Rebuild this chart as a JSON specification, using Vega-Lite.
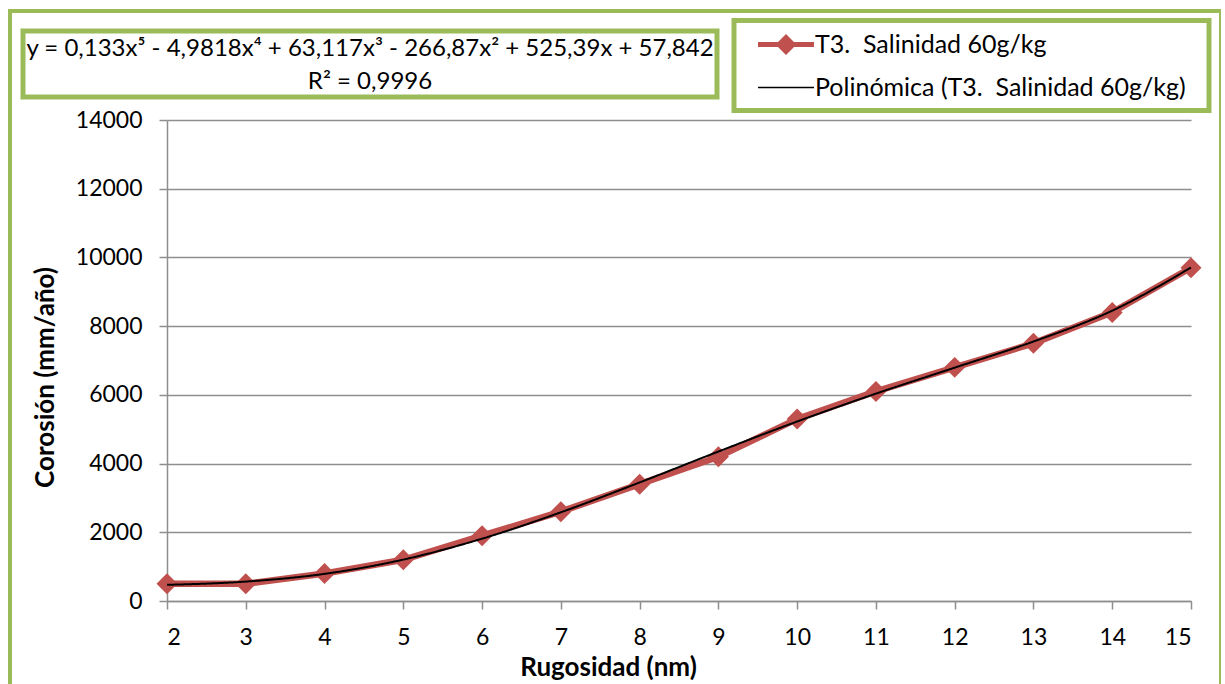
{
  "$schema": "https://vega.github.io/schema/vega-lite/v6.json",
  "autosize": {"type": "none"},
  "padding": {"left": 10, "top": 11, "right": 0, "bottom": 0},
  "width": 1211,
  "height": 700,
  "background": "white",
  "datasets": {
    "medidas": [
      {"x": 2, "y": 500, "serie": "T3. \u00a0Salinidad 60g/kg"},
      {"x": 3, "y": 500, "serie": "T3. \u00a0Salinidad 60g/kg"},
      {"x": 4, "y": 800, "serie": "T3. \u00a0Salinidad 60g/kg"},
      {"x": 5, "y": 1200, "serie": "T3. \u00a0Salinidad 60g/kg"},
      {"x": 6, "y": 1900, "serie": "T3. \u00a0Salinidad 60g/kg"},
      {"x": 7, "y": 2600, "serie": "T3. \u00a0Salinidad 60g/kg"},
      {"x": 8, "y": 3400, "serie": "T3. \u00a0Salinidad 60g/kg"},
      {"x": 9, "y": 4200, "serie": "T3. \u00a0Salinidad 60g/kg"},
      {"x": 10, "y": 5300, "serie": "T3. \u00a0Salinidad 60g/kg"},
      {"x": 11, "y": 6100, "serie": "T3. \u00a0Salinidad 60g/kg"},
      {"x": 12, "y": 6800, "serie": "T3. \u00a0Salinidad 60g/kg"},
      {"x": 13, "y": 7500, "serie": "T3. \u00a0Salinidad 60g/kg"},
      {"x": 14, "y": 8400, "serie": "T3. \u00a0Salinidad 60g/kg"},
      {"x": 15, "y": 9700, "serie": "T3. \u00a0Salinidad 60g/kg"}
    ],
    "tendencia": [
      {"x": 2, "y": 471, "serie": "Polinómica (T3. \u00a0Salinidad 60g/kg)"},
      {"x": 3, "y": 565, "serie": "Polinómica (T3. \u00a0Salinidad 60g/kg)"},
      {"x": 4, "y": 790, "serie": "Polinómica (T3. \u00a0Salinidad 60g/kg)"},
      {"x": 5, "y": 1205, "serie": "Polinómica (T3. \u00a0Salinidad 60g/kg)"},
      {"x": 6, "y": 1814, "serie": "Polinómica (T3. \u00a0Salinidad 60g/kg)"},
      {"x": 7, "y": 2582, "serie": "Polinómica (T3. \u00a0Salinidad 60g/kg)"},
      {"x": 8, "y": 3450, "serie": "Polinómica (T3. \u00a0Salinidad 60g/kg)"},
      {"x": 9, "y": 4350, "serie": "Polinómica (T3. \u00a0Salinidad 60g/kg)"},
      {"x": 10, "y": 5224, "serie": "Polinómica (T3. \u00a0Salinidad 60g/kg)"},
      {"x": 11, "y": 6036, "serie": "Polinómica (T3. \u00a0Salinidad 60g/kg)"},
      {"x": 12, "y": 6792, "serie": "Polinómica (T3. \u00a0Salinidad 60g/kg)"},
      {"x": 13, "y": 7552, "serie": "Polinómica (T3. \u00a0Salinidad 60g/kg)"},
      {"x": 14, "y": 8450, "serie": "Polinómica (T3. \u00a0Salinidad 60g/kg)"},
      {"x": 15, "y": 9706, "serie": "Polinómica (T3. \u00a0Salinidad 60g/kg)"}
    ]
  },
  "encoding": {
    "x": {
      "field": "x", "type": "quantitative",
      "scale": {"domain": [2, 15], "range": [157, 1181], "nice": false, "zero": false},
      "axis": {
        "values": [2, 3, 4, 5, 6, 7, 8, 9, 10, 11, 12, 13, 14, 15],
        "offset": -110, "grid": false, "tickSize": 8, "labelPadding": 17,
        "title": "Rugosidad (nm)", "titleX": 598, "titleY": 66, "titleBaseline": "middle", "titleAlign": "center"
      }
    },
    "y": {
      "field": "y", "type": "quantitative",
      "scale": {"domain": [0, 14000], "range": [590, 109], "nice": false, "zero": true},
      "axis": {
        "values": [0, 2000, 4000, 6000, 8000, 10000, 12000, 14000], "format": "d",
        "offset": -157, "grid": true, "tickSize": 8, "labelPadding": 17,
        "title": "Corosión (mm/año)", "titleX": -122, "titleY": 366, "titleBaseline": "middle", "titleAlign": "center", "titleAngle": -90
      }
    }
  },
  "layer": [
    {
      "data": {"name": "medidas"},
      "mark": {
        "type": "line", "stroke": "#C0504D", "strokeWidth": 6.5,
        "point": {"shape": "diamond", "filled": true, "size": 440, "fill": "#C0504D", "opacity": 1}
      },
      "encoding": {
        "x": {"field": "x", "type": "quantitative"},
        "y": {"field": "y", "type": "quantitative"}
      }
    },
    {
      "data": {"name": "tendencia"},
      "mark": {"type": "line", "color": "#000000", "strokeWidth": 2, "interpolate": "monotone"},
      "encoding": {
        "x": {"field": "x", "type": "quantitative"},
        "y": {"field": "y", "type": "quantitative"},
        "strokeDash": {
          "datum": "ecuacion", "type": "nominal",
          "scale": {"range": [[1, 0]]},
          "legend": {
            "orient": "none", "legendX": 13, "legendY": 20,
            "title": ["y = 0,133x⁵ - 4,9818x⁴ + 63,117x³ - 266,87x² + 525,39x + 57,842", "R² = 0,9996"],
            "titleOrient": "bottom",
            "titleAlign": "center", "titleAnchor": "middle", "titleFontSize": 24, "titleFontWeight": "normal",
            "titleLineHeight": 33, "titleColor": "#000000", "titlePadding": 0, "titleLimit": 2000,
            "labelExpr": "''", "labelFontSize": 1, "symbolOpacity": 0, "symbolSize": 25, "symbolStrokeWidth": 0,
            "padding": 3, "strokeColor": "#9BBB59"
          }
        }
      }
    },
    {
      "data": {"name": "medidas"},
      "transform": [{"filter": "false"}],
      "mark": {"type": "point", "filled": true, "opacity": 1, "size": 784},
      "encoding": {
        "x": {"field": "x", "type": "quantitative"},
        "y": {"field": "y", "type": "quantitative"},
        "color": {
          "field": "serie", "type": "nominal",
          "scale": {"domain": ["T3. \u00a0Salinidad 60g/kg", "Polinómica (T3. \u00a0Salinidad 60g/kg)"], "range": ["#C0504D", "#000000"]},
          "legend": {
            "orient": "none", "legendX": 724, "legendY": 9.5, "title": "MM",
            "titleOrient": "right", "titleOpacity": 0, "titleFontSize": 1, "titlePadding": 11,
            "labelFontSize": 25, "labelColor": "#000000", "labelLimit": 800,
            "padding": 10, "rowPadding": 16, "symbolOffset": 28, "labelOffset": 15,
            "symbolSize": 784, "symbolStrokeWidth": 0, "symbolOpacity": 1,
            "strokeColor": "#9BBB59"
          }
        },
        "shape": {
          "field": "serie", "type": "nominal",
          "scale": {"domain": ["T3. \u00a0Salinidad 60g/kg", "Polinómica (T3. \u00a0Salinidad 60g/kg)"], "range": ["M-2,-0.18H2V0.18H-2Z M0,-0.75L0.75,0L0,0.75L-0.75,0Z", "M-2,-0.055H2V0.055H-2Z"]},
          "legend": {
            "orient": "none", "legendX": 724, "legendY": 9.5, "title": "MM",
            "titleOrient": "right", "titleOpacity": 0, "titleFontSize": 1, "titlePadding": 11,
            "labelFontSize": 25, "labelColor": "#000000", "labelLimit": 800,
            "padding": 10, "rowPadding": 16, "symbolOffset": 28, "labelOffset": 15,
            "symbolSize": 784, "symbolStrokeWidth": 0, "symbolOpacity": 1,
            "strokeColor": "#9BBB59"
          }
        }
      }
    }
  ],
  "config": {
    "font": "Lato",
    "view": {"stroke": "#9BBB59", "strokeWidth": 4, "fill": null},
    "legend": {"strokeWidth": 5, "labelFont": "Lato", "titleFont": "Lato"},
    "axis": {
      "labelFont": "Lato", "labelFontSize": 23, "labelColor": "#000000",
      "titleFont": "Lato", "titleFontSize": 26, "titleFontWeight": "bold", "titleColor": "#000000",
      "domainColor": "#8E8E8E", "domainWidth": 1.5, "tickColor": "#8E8E8E", "tickWidth": 1.5,
      "gridColor": "#8E8E8E", "gridWidth": 1.5
    }
  }
}
